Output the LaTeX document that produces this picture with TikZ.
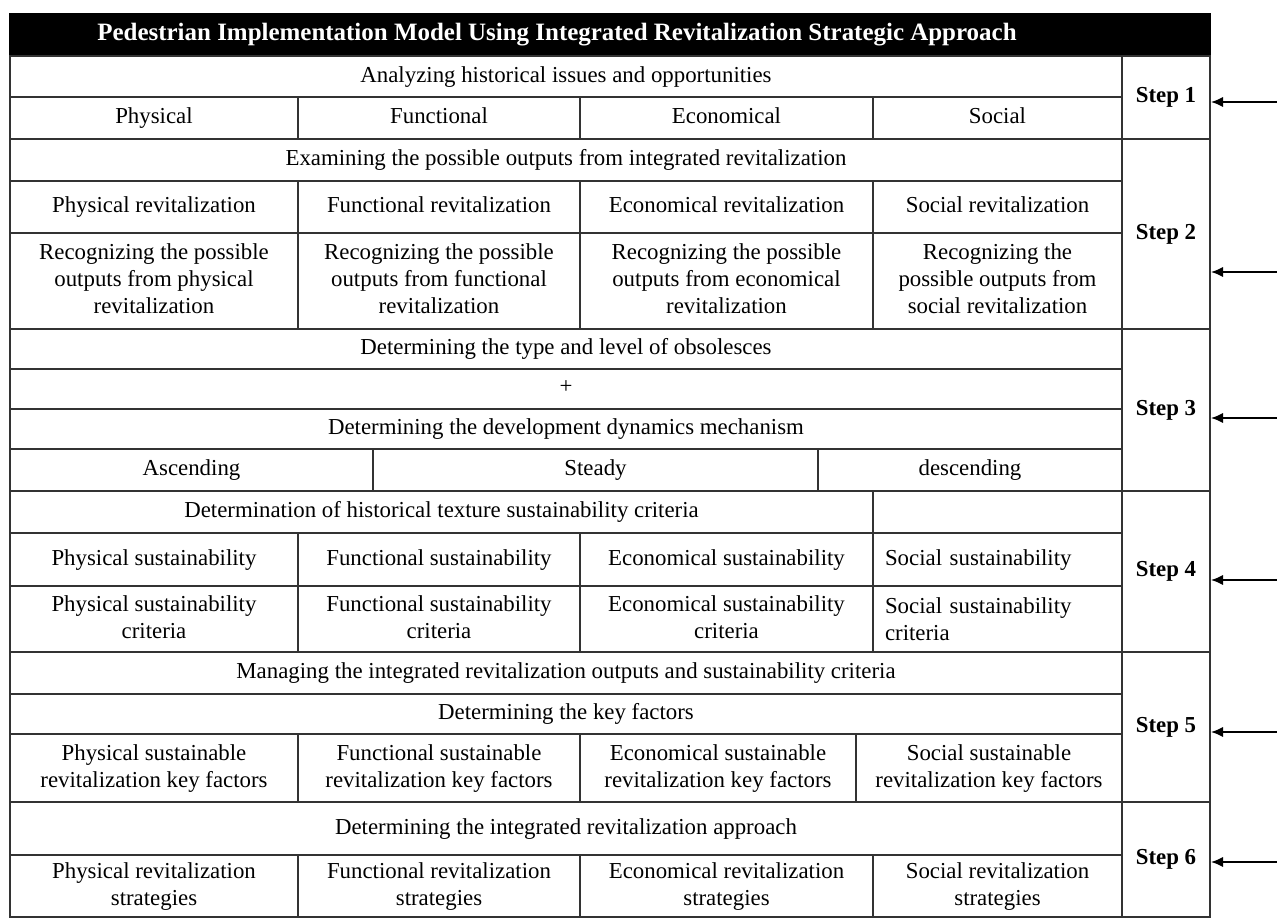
\documentclass[tikz,border=0pt]{standalone}
\usepackage{fontspec}
\setmainfont{Liberation Serif}
\usetikzlibrary{arrows.meta}
\begin{document}
\begin{tikzpicture}[
  cell/.style={draw=black!80, line width=0.8pt, rectangle, inner sep=0pt, align=center, text depth=0.25em, font=\fontsize{13}{15.5}\selectfont},
  head/.style={draw=black, fill=black, rectangle, line width=0.8pt, inner sep=0pt},
  stepbox/.style={cell, font=\fontsize{13}{15.5}\selectfont\bfseries},
  inarrow/.style={-{Latex[length=7pt,width=6pt]}, line width=1.5pt}]
\useasboundingbox (0,0) rectangle (25.54,-18.36);
\node[head, minimum width=24.0cm, minimum height=0.84cm] (title) at (12.2,-0.70) {};
\node[text=white, inner sep=0pt, font=\fontsize{14.2}{17}\selectfont\bfseries] (titletext) at (11.14,-0.70) {Pedestrian Implementation Model Using Integrated Revitalization Strategic Approach};
% step 1
\node[cell, minimum width=22.24cm, minimum height=0.82cm] (hist) at (11.32,-1.53) {Analyzing historical issues and opportunities};
\node[cell, minimum width=5.76cm, minimum height=0.84cm] (phy) at (3.08,-2.36) {Physical};
\node[cell, minimum width=5.64cm, minimum height=0.84cm] (fun) at (8.78,-2.36) {Functional};
\node[cell, minimum width=5.86cm, minimum height=0.84cm] (eco) at (14.53,-2.36) {Economical};
\node[cell, minimum width=4.98cm, minimum height=0.84cm] (soc) at (19.95,-2.36) {Social};
% step 2
\node[cell, minimum width=22.24cm, minimum height=0.84cm] (exam) at (11.32,-3.20) {Examining the possible outputs from integrated revitalization};
\node[cell, minimum width=5.76cm, minimum height=1.04cm] (phyrev) at (3.08,-4.14) {Physical revitalization};
\node[cell, minimum width=5.64cm, minimum height=1.04cm] (funrev) at (8.78,-4.14) {Functional revitalization};
\node[cell, minimum width=5.86cm, minimum height=1.04cm] (ecorev) at (14.53,-4.14) {Economical revitalization};
\node[cell, minimum width=4.98cm, minimum height=1.04cm] (socrev) at (19.95,-4.14) {Social revitalization};
\node[cell, minimum width=5.76cm, minimum height=1.92cm] (phyout) at (3.08,-5.62) {Recognizing the possible\\outputs from physical\\revitalization};
\node[cell, minimum width=5.64cm, minimum height=1.92cm] (funout) at (8.78,-5.62) {Recognizing the possible\\outputs from functional\\revitalization};
\node[cell, minimum width=5.86cm, minimum height=1.92cm] (ecoout) at (14.53,-5.62) {Recognizing the possible\\outputs from economical\\revitalization};
\node[cell, minimum width=4.98cm, minimum height=1.92cm] (socout) at (19.95,-5.62) {Recognizing the\\possible outputs from\\social revitalization};
% step 3
\node[cell, minimum width=22.24cm, minimum height=0.80cm] (obs) at (11.32,-6.98) {Determining the type and level of obsolesces};
\node[cell, minimum width=22.24cm, minimum height=0.80cm] (plus) at (11.32,-7.78) {+};
\node[cell, minimum width=22.24cm, minimum height=0.80cm] (dyn) at (11.32,-8.58) {Determining the development dynamics mechanism};
\node[cell, minimum width=7.26cm, minimum height=0.84cm] (asc) at (3.83,-9.40) {Ascending};
\node[cell, minimum width=8.90cm, minimum height=0.84cm] (ste) at (11.91,-9.40) {Steady};
\node[cell, minimum width=6.08cm, minimum height=0.84cm] (des) at (19.40,-9.40) {descending};
% step 4
\node[cell, minimum width=17.26cm, minimum height=0.84cm] (sust) at (8.83,-10.24) {Determination of historical texture sustainability criteria};
\node[cell, minimum width=4.98cm, minimum height=0.84cm] (blank) at (19.95,-10.24) {};
\node[cell, minimum width=5.76cm, minimum height=1.06cm] (physus) at (3.08,-11.19) {Physical sustainability};
\node[cell, minimum width=5.64cm, minimum height=1.06cm] (funsus) at (8.78,-11.19) {Functional sustainability};
\node[cell, minimum width=5.86cm, minimum height=1.06cm] (ecosus) at (14.53,-11.19) {Economical sustainability};
\node[cell, minimum width=4.98cm, minimum height=1.06cm, text width=4.5cm, align=left] (socsus) at (19.95,-11.19) {Social sustainability};
\node[cell, minimum width=5.76cm, minimum height=1.32cm] (phycri) at (3.08,-12.38) {Physical sustainability\\criteria};
\node[cell, minimum width=5.64cm, minimum height=1.32cm] (funcri) at (8.78,-12.38) {Functional sustainability\\criteria};
\node[cell, minimum width=5.86cm, minimum height=1.32cm] (ecocri) at (14.53,-12.38) {Economical sustainability\\criteria};
\node[cell, minimum width=4.98cm, minimum height=1.32cm, text width=4.5cm, align=left, text depth={}] (soccri) at (19.95,-12.38) {Social sustainability\\criteria};
% step 5
\node[cell, minimum width=22.24cm, minimum height=0.84cm] (manage) at (11.32,-13.46) {Managing the integrated revitalization outputs and sustainability criteria};
\node[cell, minimum width=22.24cm, minimum height=0.80cm] (key) at (11.32,-14.28) {Determining the key factors};
\node[cell, minimum width=5.76cm, minimum height=1.36cm] (phykey) at (3.08,-15.36) {Physical sustainable\\revitalization key factors};
\node[cell, minimum width=5.64cm, minimum height=1.36cm] (funkey) at (8.78,-15.36) {Functional sustainable\\revitalization key factors};
\node[cell, minimum width=5.52cm, minimum height=1.36cm] (ecokey) at (14.36,-15.36) {Economical sustainable\\revitalization key factors};
\node[cell, minimum width=5.32cm, minimum height=1.36cm] (sockey) at (19.78,-15.36) {Social sustainable\\revitalization key factors};
% step 6
\node[cell, minimum width=22.24cm, minimum height=1.06cm] (approach) at (11.32,-16.57) {Determining the integrated revitalization approach};
\node[cell, minimum width=5.76cm, minimum height=1.24cm] (phystr) at (3.08,-17.72) {Physical revitalization\\strategies};
\node[cell, minimum width=5.64cm, minimum height=1.24cm] (funstr) at (8.78,-17.72) {Functional revitalization\\strategies};
\node[cell, minimum width=5.86cm, minimum height=1.24cm] (ecostr) at (14.53,-17.72) {Economical revitalization\\strategies};
\node[cell, minimum width=4.98cm, minimum height=1.24cm] (socstr) at (19.95,-17.72) {Social revitalization\\strategies};
% steps
\node[stepbox, minimum width=1.76cm, minimum height=1.66cm] (s1) at (23.32,-1.95) {Step 1};
\node[stepbox, minimum width=1.76cm, minimum height=3.80cm] (s2) at (23.32,-4.68) {Step 2};
\node[stepbox, minimum width=1.76cm, minimum height=3.24cm] (s3) at (23.32,-8.20) {Step 3};
\node[stepbox, minimum width=1.76cm, minimum height=3.22cm] (s4) at (23.32,-11.43) {Step 4};
\node[stepbox, minimum width=1.76cm, minimum height=3.00cm] (s5) at (23.32,-14.54) {Step 5};
\node[stepbox, minimum width=1.76cm, minimum height=2.30cm] (s6) at (23.32,-17.19) {Step 6};
\coordinate (in1) at (25.54,-2.04);
\coordinate (in2) at (25.54,-5.44);
\coordinate (in3) at (25.54,-8.36);
\coordinate (in4) at (25.54,-11.60);
\coordinate (in5) at (25.54,-14.64);
\coordinate (in6) at (25.54,-17.24);
\foreach \i in {1,...,6}
  \draw[inarrow] (in\i) -- (in\i -| s\i.east);
\end{tikzpicture}
\end{document}
